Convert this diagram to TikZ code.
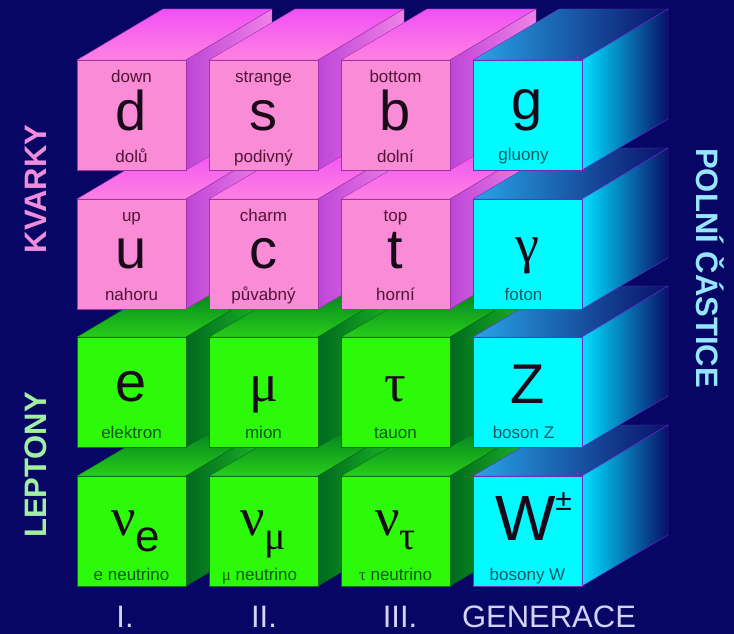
\documentclass[tikz,border=0pt]{standalone}
\usepackage{fontspec}
\setmainfont{Liberation Sans}
\newfontfamily\greekfont{Liberation Serif}
\usepackage{tikz}

\definecolor{bgblue}{RGB}{8,6,100}
\definecolor{quarkface}{RGB}{250,140,215}
\definecolor{quarkline}{RGB}{160,50,170}
\definecolor{quarkink}{RGB}{80,20,55}
\definecolor{leptonface}{RGB}{45,250,10}
\definecolor{leptonline}{RGB}{0,110,20}
\definecolor{leptonink}{RGB}{10,90,25}
\definecolor{bosonface}{RGB}{0,250,255}
\definecolor{bosonline}{RGB}{110,40,210}
\definecolor{bosonink}{RGB}{20,90,100}
\definecolor{symink}{RGB}{25,10,25}
\definecolor{quarktitle}{RGB}{240,140,220}
\definecolor{leptontitle}{RGB}{160,240,160}
\definecolor{bosontitle}{RGB}{150,230,255}
\definecolor{genlight}{RGB}{210,210,250}

\tikzset{
  quarkfront/.style={fill=quarkface, draw=quarkline},
  quarktop/.style={top color={rgb,255:red,240;green,80;blue,245}, bottom color={rgb,255:red,255;green,130;blue,225}, draw=quarkline},
  quarkside/.style={left color={rgb,255:red,190;green,70;blue,215}, right color={rgb,255:red,240;green,130;blue,230}, draw=quarkline},
  leptonfront/.style={fill=leptonface, draw=leptonline},
  leptontop/.style={top color={rgb,255:red,0;green,120;blue,35}, bottom color={rgb,255:red,40;green,205;blue,25}, draw=leptonline},
  leptonside/.style={left color={rgb,255:red,0;green,105;blue,30}, right color={rgb,255:red,30;green,190;blue,40}, draw=leptonline},
  bosonfront/.style={fill=bosonface, draw=bosonline},
  bosontop/.style={left color={rgb,255:red,40;green,165;blue,230}, right color={rgb,255:red,10;green,15;blue,105}, draw=bosonline},
  bosonside/.style={left color={rgb,255:red,0;green,225;blue,255}, middle color={rgb,255:red,15;green,100;blue,195}, right color={rgb,255:red,10;green,15;blue,105}, draw=bosonline},
  sym/.style={anchor=base, inner sep=0pt, text=symink, font=\fontsize{56}{56}\selectfont},
  greeksym/.style={sym, font=\greekfont\fontsize{54}{54}\selectfont},
  lab/.style={anchor=base, inner sep=0pt, font=\fontsize{17}{17}\selectfont},
  rowtitle/.style={inner sep=0pt, font=\bfseries\fontsize{31}{31}\selectfont},
  gen/.style={anchor=base, inner sep=0pt, text=genlight, font=\fontsize{31}{31}\selectfont}
}

% one cube: left edge, top edge, family (quark, lepton, boson)
\newcommand{\cube}[3]{%
  \shade[#3top] (#1,#2) -- ++(\dpx,-\dpy) -- ++(\wid,0) -- ++(-\dpx,\dpy) -- cycle;
  \shade[#3side] (#1+\wid,#2) -- ++(\dpx,-\dpy) -- ++(0,\hgt) -- ++(-\dpx,\dpy) -- cycle;
  \path[#3front] (#1,#2) rectangle ++(\wid,\hgt);
}

\begin{document}
\begin{tikzpicture}[x=1pt,y=-1pt]
  % Canvas
  \useasboundingbox (0,0) rectangle (734,634);
  \fill[bgblue] (0,0) rectangle (734,634);

  % Cube size and depth
  \def\wid{109}
  \def\hgt{110}
  \def\dpx{86}
  \def\dpy{51}

  % Columns: left edges and centres
  \def\xA{77}  \def\xB{209} \def\xC{341} \def\xD{473}
  \def\cA{131.5} \def\cB{263.5} \def\cC{395.5} \def\cD{527.5}

  % Rows: top edges
  \def\yA{60} \def\yB{199} \def\yC{337} \def\yD{476}

  % Fourth row: neutrinos and W
  \cube{\xA}{\yD}{lepton}
  \cube{\xB}{\yD}{lepton}
  \cube{\xC}{\yD}{lepton}
  \cube{\xD}{\yD}{boson}

  % Third row: charged leptons and Z
  \cube{\xA}{\yC}{lepton}
  \cube{\xB}{\yC}{lepton}
  \cube{\xC}{\yC}{lepton}
  \cube{\xD}{\yC}{boson}

  % Second row: up type quarks and photon
  \cube{\xA}{\yB}{quark}
  \cube{\xB}{\yB}{quark}
  \cube{\xC}{\yB}{quark}
  \cube{\xD}{\yB}{boson}

  % First row: down type quarks and gluon
  \cube{\xA}{\yA}{quark}
  \cube{\xB}{\yA}{quark}
  \cube{\xC}{\yA}{quark}
  \cube{\xD}{\yA}{boson}

  % First row labels
  \node[lab, text=quarkink] (downen) at (\cA,\yA+22) {down};
  \node[sym] (dsym) at (\cA,\yA+70) {d};
  \node[lab, text=quarkink] (downcz) at (\cA,\yA+102) {dolů};
  \node[lab, text=quarkink] (strangeen) at (\cB,\yA+22) {strange};
  \node[sym] (ssym) at (\cB,\yA+70) {s};
  \node[lab, text=quarkink] (strangecz) at (\cB,\yA+102) {podivný};
  \node[lab, text=quarkink] (bottomen) at (\cC,\yA+22) {bottom};
  \node[sym] (bsym) at (\cC,\yA+70) {b};
  \node[lab, text=quarkink] (bottomcz) at (\cC,\yA+102) {dolní};
  \node[sym] (gsym) at (\cD,\yA+59) {g};
  \node[lab, text=bosonink] (gluoncz) at (\cD-4,\yA+100) {gluony};

  % Second row labels
  \node[lab, text=quarkink] (upen) at (\cA,\yB+22) {up};
  \node[sym, text height=30pt] (usym) at (\cA,\yB+69) {u};
  \node[lab, text=quarkink] (upcz) at (\cA,\yB+101) {nahoru};
  \node[lab, text=quarkink] (charmen) at (\cB,\yB+22) {charm};
  \node[sym] (csym) at (\cB,\yB+69) {c};
  \node[lab, text=quarkink] (charmcz) at (\cB,\yB+101) {půvabný};
  \node[lab, text=quarkink] (topen) at (\cC,\yB+22) {top};
  \node[sym] (tsym) at (\cC,\yB+69) {t};
  \node[lab, text=quarkink] (topcz) at (\cC,\yB+101) {horní};
  \node[greeksym] (gammasym) at (\cD,\yB+63) {γ};
  \node[lab, text=bosonink] (fotoncz) at (\cD-4,\yB+101) {foton};

  % Third row labels
  \node[sym] (esym) at (\cA,\yC+64) {e};
  \node[lab, text=leptonink] (ecz) at (\cA,\yC+101) {elektron};
  \node[greeksym] (musym) at (\cB,\yC+64) {μ};
  \node[lab, text=leptonink] (mucz) at (\cB,\yC+101) {mion};
  \node[greeksym] (tausym) at (\cC,\yC+64) {τ};
  \node[lab, text=leptonink] (taucz) at (\cC,\yC+101) {tauon};
  \node[sym] (zsym) at (\cD,\yC+66) {Z};
  \node[lab, text=bosonink] (zcz) at (\cD-4,\yC+101) {boson Z};

  % Fourth row labels
  \node[greeksym] (nuesym) at (\cA+4,\yD+59) {ν\raisebox{-16pt}{\fontspec{Liberation Sans}\fontsize{44}{44}\selectfont e}};
  \node[lab, text=leptonink] (nuecz) at (\cA,\yD+104) {e neutrino};
  \node[greeksym] (numusym) at (\cB,\yD+59) {ν\raisebox{-14pt}{\fontsize{40}{40}\selectfont μ}};
  \node[lab, text=leptonink] (numucz) at (\cB-4,\yD+104) {{\greekfont μ} neutrino};
  \node[greeksym] (nutausym) at (\cC,\yD+59) {ν\raisebox{-14pt}{\fontsize{40}{40}\selectfont τ}};
  \node[lab, text=leptonink] (nutaucz) at (\cC,\yD+104) {{\greekfont τ} neutrino};
  \node[sym] (wsym) at (\cD+6,\yD+64) {\fontsize{64}{64}\selectfont W\raisebox{30pt}{\fontsize{30}{30}\selectfont ±}};
  \node[lab, text=bosonink] (wcz) at (\cD,\yD+104) {bosony W};

  % Side titles
  \node[rowtitle, text=quarktitle, rotate=90] (kvarky) at (36,189) {KVARKY};
  \node[rowtitle, text=leptontitle, rotate=90] (leptony) at (36,465) {LEPTONY};
  \node[rowtitle, text=bosontitle, rotate=-90] (polni) at (710,268) {POLNÍ ČÁSTICE};

  % Generations
  \node[gen] (genI) at (125,627) {I.};
  \node[gen] (genII) at (264,627) {II.};
  \node[gen] (genIII) at (400,627) {III.};
  \node[gen] (genword) at (549,627) {GENERACE};
\end{tikzpicture}
\end{document}
